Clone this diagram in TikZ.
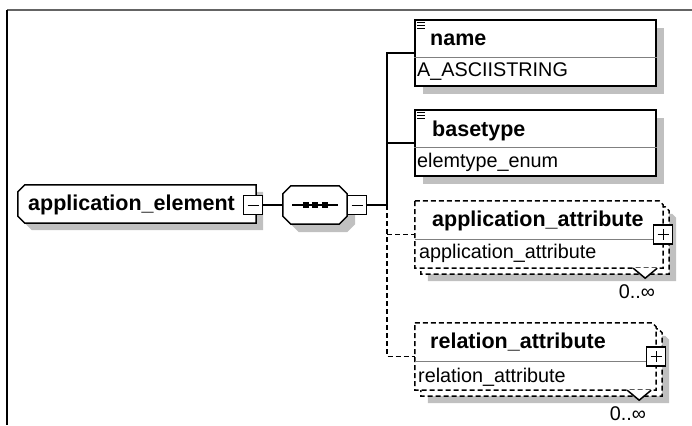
\documentclass[tikz,border=0pt]{standalone}
\usepackage{fontspec}
\setmainfont{Liberation Sans}
\usetikzlibrary{shadows}
\definecolor{shadowgray}{RGB}{192,192,192}
\definecolor{framegray}{RGB}{100,100,100}
\tikzset{
    area/.style = {rectangle, inner sep=0pt},
    outline/.style = {draw, fill=white, line width=1.5pt},
    optline/.style = {outline, dash pattern=on 5pt off 3pt},
    shade/.style = {fill=shadowgray},
    chamferleft/.style = {insert path={([xshift=7pt]#1.north west) -- (#1.north east) -- (#1.south east)
        -- ([xshift=7pt]#1.south west) -- ([yshift=7pt]#1.south west) -- ([yshift=-7pt]#1.north west) -- cycle}},
    chamferall/.style = {insert path={([xshift=8pt]#1.north west) -- ([xshift=-8pt]#1.north east)
        -- ([yshift=-8pt]#1.north east) -- ([yshift=8pt]#1.south east) -- ([xshift=-8pt]#1.south east)
        -- ([xshift=8pt]#1.south west) -- ([yshift=8pt]#1.south west) -- ([yshift=-8pt]#1.north west) -- cycle}},
    chamferne/.style = {insert path={(#1.north west) -- ([xshift=-4pt]#1.north east)
        -- ([yshift=-4pt]#1.north east) -- (#1.south east) -- (#1.south west) -- cycle}},
    attribute/.style = {rectangle, draw, fill=white, line width=1.5pt, minimum width=241pt,
                        minimum height=66pt, inner sep=0pt,
                        drop shadow={shadow xshift=8pt, shadow yshift=-8pt, opacity=1, fill=shadowgray}},
    minusbox/.style = {rectangle, draw, fill=white, line width=1.5pt, minimum size=19pt, inner sep=0pt,
                        path picture={\draw[line width=1pt] ([xshift=4pt]path picture bounding box.west)
                            -- ([xshift=-4pt]path picture bounding box.east);}},
    plusbox/.style = {minusbox, path picture={\draw[line width=1pt]
                            ([xshift=4pt]path picture bounding box.west)
                            -- ([xshift=-4pt]path picture bounding box.east)
                            ([yshift=-4pt]path picture bounding box.north)
                            -- ([yshift=4pt]path picture bounding box.south);}},
    title/.style = {font=\fontsize{21.5}{24}\selectfont\bfseries, inner sep=0pt, anchor=base west},
    typename/.style = {font=\fontsize{19.8}{22}\selectfont, inner sep=0pt, anchor=base west},
    card/.style = {font=\fontsize{19.8}{22}\selectfont, inner sep=0pt, anchor=base},
    divider/.style = {gray, line width=1pt},
    conn/.style = {line width=1.5pt},
    optconn/.style = {conn, dash pattern=on 5pt off 3pt}
}

\begin{document}
\begin{tikzpicture}[x=1pt, y=-1pt]
    \useasboundingbox (0,0) rectangle (692,425);
    \draw[framegray, line width=2pt] (7,10) -- (692,10);
    \draw[line width=2pt] (7,10) -- (7,425);

    % element and sequence
    \node (elem) [area, minimum width=238pt, minimum height=38pt] at (137,204) {};
    \fill[shade, transform canvas={shift={(7pt,-7pt)}}, chamferleft=elem];
    \path[outline, chamferleft=elem];
    \node (elemtext) [title] at (28,210) {application\_element};
    \node (elemminus) [minusbox] at (253,205) {};
    \node (seq) [area, minimum width=64pt, minimum height=38pt] at (315,205) {};
    \fill[shade, transform canvas={shift={(8pt,-8pt)}}, chamferall=seq];
    \path[outline, chamferall=seq];
    \draw[conn] ([xshift=-23pt]seq.center) -- ([xshift=23pt]seq.center);
    \foreach \k in {-1,0,1}
        \fill ([xshift=\k*9.5pt]seq.center) +(-3,-3) rectangle +(3,3);
    \node (seqminus) [minusbox] at (357,205) {};

    % children
    \node (name) [attribute] at (535.5,53) {};
    \node (basetype) [attribute] at (535.5,143) {};
    \node (appattr) [area, minimum width=248pt, minimum height=67pt] at (539,234.5) {};
    \node (relattr) [area, minimum width=241pt, minimum height=67pt] at (535.5,356.5) {};
    \foreach \child in {appattr, relattr} {
        \fill[shade, transform canvas={shift={(13pt,-13pt)}}, chamferne=\child];
        \path[optline, transform canvas={shift={(6pt,-6pt)}}, chamferne=\child];
        \path[optline, chamferne=\child];
    }
    \foreach \child in {name, basetype, appattr, relattr}
        \draw[divider] ([yshift=-4.5pt]\child.west) -- ([yshift=-4.5pt]\child.east);
    \foreach \child in {name, basetype}
        \foreach \k in {0,1,2}
            \draw[line width=0.8pt] ([shift={(3,3+3*\k)}]\child.north west) -- ++(8,0);
    \node (appplus) [plusbox] at (appattr.east) {};
    \node (relplus) [plusbox] at (relattr.east) {};
    \draw[conn, fill=white] ([xshift=-30pt]appattr.south east) -- ++(12,10) -- ++(12,-10);
    \draw[conn, fill=white] ([xshift=-29pt]relattr.south east) -- ++(12,10) -- ++(12,-10);

    \node (nametext) [title] at (430,46) {name};
    \node (nametype) [typename] at (417,77) {A\_ASCIISTRING};
    \node (basetext) [title] at (432,136) {basetype};
    \node (basetypetype) [typename] at (417,167) {elemtype\_enum};
    \node (apptext) [title] at (432,226) {application\_attribute};
    \node (apptype) [typename] at (419,258) {application\_attribute};
    \node (reltext) [title] at (430,348) {relation\_attribute};
    \node (reltype) [typename] at (418,382) {relation\_attribute};
    \node (appcard) [card] at (637,298) {0..∞};
    \node (relcard) [card] at (628,420) {0..∞};

    % connectors
    \coordinate (bus) at (387,205);
    \draw[conn] (elemminus.east) -- (seq.west);
    \draw[conn] (seqminus.east) -- (bus);
    \draw[conn] (name.west) -| (bus);
    \draw[conn] (basetype.west) -| (bus);
    \draw[optconn] (bus) |- (relattr.west);
    \draw[optconn] (bus |- appattr.west) -- (appattr.west);
\end{tikzpicture}
\end{document}
